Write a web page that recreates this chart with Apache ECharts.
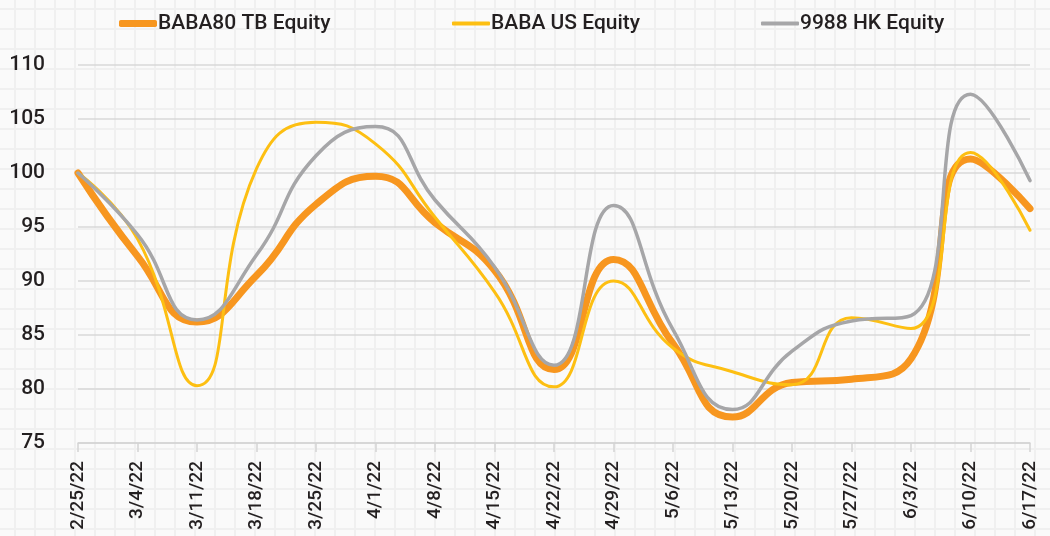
<!DOCTYPE html>
<html>
<head>
<meta charset="UTF-8">
<title>BABA80 vs BABA vs 9988</title>
<script src="https://cdn.jsdelivr.net/npm/echarts@6/dist/echarts.min.js"></script>
<style>
    html, body { margin: 0; padding: 0; }
    body {
        width: 1050px; height: 536px;
        background-color: #fafafa;
        background-image:
            linear-gradient(to right, #f0f0f0 2px, transparent 2px),
            linear-gradient(to bottom, #f0f0f0 2px, transparent 2px);
        background-size: 20px 20px;
        background-position: 14px 8px;
    }
    #chart { width: 1050px; height: 536px; }
</style>
</head>
<body>
<div id="chart"></div>
<script>
    // weekly dates
    const dates = ['2/25/22', '3/4/22', '3/11/22', '3/18/22', '3/25/22', '4/1/22', '4/8/22', '4/15/22',
        '4/22/22', '4/29/22', '5/6/22', '5/13/22', '5/20/22', '5/27/22', '6/3/22', '6/10/22', '6/17/22'];

    // rebased to 100
    const baba80 = [100, 92.3, 86.2, 90.5, 97.1, 99.7, 95.4, 91.0, 81.8, 92.0, 84.2, 77.4, 80.6, 80.9, 82.8, 101.3, 96.7];
    const babaUS = [100, 93.9, 80.3, 100.4, 104.7, 102.7, 95.9, 89.0, 80.2, 90.0, 83.8, 81.6, 80.4, 86.6, 85.6, 101.9, 94.7];
    const hk9988 = [100, 94.3, 86.4, 92.4, 101.6, 104.3, 97.5, 91.3, 82.2, 97.0, 85.5, 78.1, 83.5, 86.3, 86.8, 107.3, 99.3];

    const names = ['BABA80 TB Equity', 'BABA US Equity', '9988 HK Equity'];
    const colors = ['#f7961f', '#fdbf12', '#a6a6a8'];

    const font = 'Roboto, "Liberation Sans", Arial, sans-serif';

    const chart = echarts.init(document.getElementById('chart'));

    const legendPos = [114, 447, 756];
    const legendH = [7, 4, 4];

    chart.setOption({
        backgroundColor: 'transparent',
        animation: false,
        legend: names.map((n, i) => ({
            data: [n],
            left: legendPos[i],
            top: 8,
            icon: 'roundRect',
            itemWidth: 38,
            itemHeight: legendH[i],
            itemGap: 0,
            textStyle: { fontFamily: font, fontWeight: 500, fontSize: 21, color: '#231f20', padding: [0, 0, 0, -4] }
        })),
        grid: { left: 78, right: 20, top: 65, bottom: 93 },
        xAxis: {
            type: 'category',
            data: dates,
            boundaryGap: false,
            axisLine: { lineStyle: { color: '#d4d4d4', width: 1.5 } },
            axisTick: { alignWithLabel: true, length: 9, lineStyle: { color: '#d4d4d4', width: 1.5 } },
            axisLabel: {
                rotate: 90,
                margin: 18,
                interval: 0,
                fontFamily: font,
                fontWeight: 500,
                fontSize: 19,
                color: '#231f20'
            }
        },
        yAxis: {
            type: 'value',
            min: 75,
            max: 110,
            interval: 5,
            axisLine: { show: false },
            axisTick: { show: false },
            axisLabel: { margin: 33, fontFamily: font, fontWeight: 500, fontSize: 21, color: '#231f20' },
            splitLine: { lineStyle: { color: '#d9d9d9', width: 1.5 } }
        },
        series: [
            { name: names[0], data: baba80, width: 7 },
            { name: names[1], data: babaUS, width: 3 },
            { name: names[2], data: hk9988, width: 3.5 }
        ].map((s, i) => ({
            name: s.name,
            type: 'line',
            data: s.data,
            smooth: 0.5,
            showSymbol: false,
            symbol: 'none',
            color: colors[i],
            lineStyle: { width: s.width, color: colors[i], cap: 'round', join: 'round' }
        }))
    });
</script>
</body>
</html>
